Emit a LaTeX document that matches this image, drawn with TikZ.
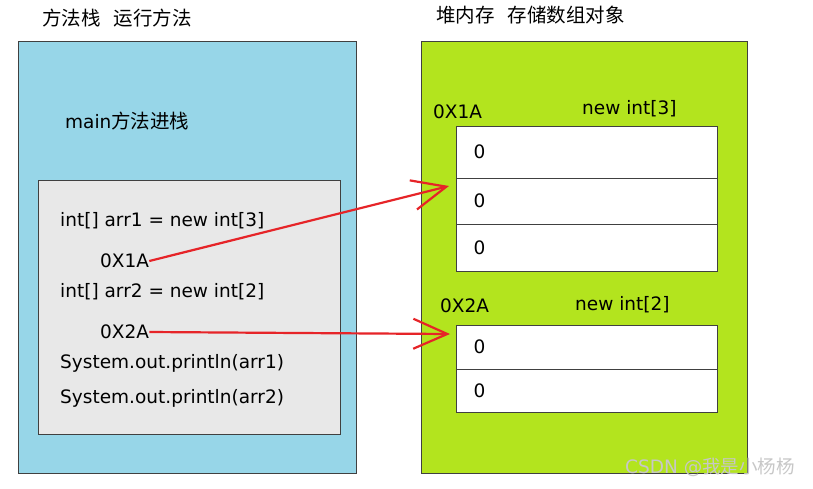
\documentclass[tikz,border=0pt]{standalone}
\usepackage{fontspec}
\setmainfont{DejaVu Sans}
\newfontfamily\cjk{Noto Sans CJK SC}
\usetikzlibrary{arrows.meta}

\definecolor{StackColor}{RGB}{151,214,232}
\definecolor{FrameColor}{RGB}{232,232,232}
\definecolor{HeapColor}{RGB}{179,228,30}
\definecolor{PointerColor}{RGB}{230,36,40}
\definecolor{BorderColor}{RGB}{64,64,64}
\newcommand{\cjkbig}{\cjk\fontsize{19.5}{22}\selectfont}
\tikzstyle{area-base}=[rectangle,
                       draw=BorderColor,
                       line width=0.9pt,
                      ]
\tikzstyle{stack}=[area-base,
                   fill={StackColor}]
\tikzstyle{frame}=[area-base,
                   fill={FrameColor}]
\tikzstyle{heap}=[area-base,
                  fill={HeapColor}]
\tikzstyle{heap-cell}=[area-base,
                       fill=white,
                       minimum width=261pt,
                       text width=227pt,
                       inner xsep=17pt,
                       align=left]
\tikzstyle{code}=[anchor=west, inner sep=0pt, font=\fontsize{18.5}{21}\selectfont]
\tikzstyle{pointer}=[draw=PointerColor, line width=2.2pt,
                     -{Straight Barb[length=34pt,width=30pt,line width=2.2pt]}]

\begin{document}
\begin{tikzpicture}[x=1pt,y=-1pt]
\useasboundingbox (0,0) rectangle (813,488);

\node at (42, 18) (stack_title) [code] {\cjkbig 方法栈\hspace{13pt}运行方法};
\node at (436, 15) (heap_title) [code] {\cjkbig 堆内存\hspace{13pt}存储数组对象};

\node at (187, 257) (stack) [stack, minimum width=338pt, minimum height=432pt] {};
\node at (65, 121) (main_frame_title) [code] {main{\cjkbig 方法进栈}};
\node at (189, 307) (main_frame) [frame, minimum width=302pt, minimum height=254pt] {};

\node at (60, 221) (stmt_arr1)  [code] {int[] arr1 = new int[3]};
\node at (100, 261) (stack_addr1) [code] {0X1A};
\node at (60, 292) (stmt_arr2)  [code] {int[] arr2 = new int[2]};
\node at (100, 332) (stack_addr2) [code] {0X2A};
\node at (60, 363) (stmt_print1) [code] {System.out.println(arr1)};
\node at (60, 398) (stmt_print2) [code] {System.out.println(arr2)};

\node at (584, 257) (heap) [heap, minimum width=326pt, minimum height=432pt] {};

\node at (433, 112) (heap_addr1) [code] {0X1A};
\node at (582, 109) (heap_type1) [code] {new int[3]};
\node at (587, 152) (arr1_cell0) [heap-cell, minimum height=52pt, code, anchor=center] {0};
\node at (587, 201) (arr1_cell1) [heap-cell, minimum height=46pt, code, anchor=center] {0};
\node at (587, 247.5) (arr1_cell2) [heap-cell, minimum height=47pt, code, anchor=center] {0};

\node at (440, 306) (heap_addr2) [code] {0X2A};
\node at (575, 305) (heap_type2) [code] {new int[2]};
\node at (587, 347) (arr2_cell0) [heap-cell, minimum height=44pt, code, anchor=center] {0};
\node at (587, 390.5) (arr2_cell1) [heap-cell, minimum height=43pt, code, anchor=center] {0};

\coordinate (arr1_target) at (449, 186);
\coordinate (arr2_target) at (450, 334);

\draw[pointer] (stack_addr1.east) -- (arr1_target);
\draw[pointer] (stack_addr2.east) -- (arr2_target);

\node at (625, 467) (watermark) [code, text=black!22, font=\fontsize{18.5}{21}\selectfont] {CSDN @{\cjk 我是小杨杨}};
\end{tikzpicture}
\end{document}
